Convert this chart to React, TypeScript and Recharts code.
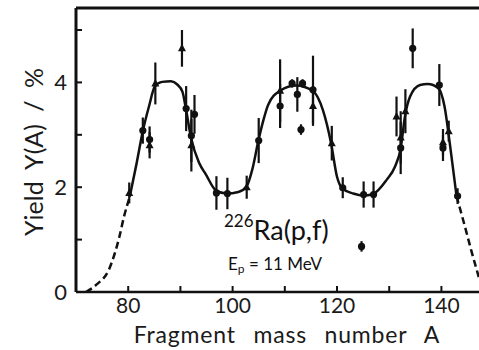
import { ComposedChart, Line, Scatter, XAxis, YAxis, ErrorBar, ReferenceLine } from 'recharts';

const FONT = 'Lato, "Open Sans", sans-serif';
const INK = '#111';

// fitted curve, solid part
const curveA = [80.3, 81.6, 82.8, 84.0, 85.1, 86.5, 88.2, 89.4, 90.4, 91.05, 92.0, 93.6, 94.9, 96.8, 98.8, 101.1, 102.7, 103.8, 104.9, 105.9, 106.8, 109.1, 112.2, 115.4, 117.3, 118.9, 120.0, 121.0, 123.1, 125.0, 126.9, 129.5, 131.1, 132.2, 133.0, 134.0, 135.9, 137.4, 139.4, 140.6, 141.6, 142.9];
const curveY = [1.82, 2.45, 3.07, 3.55, 3.92, 4.01, 4.02, 3.96, 3.82, 3.5, 2.96, 2.46, 2.24, 1.94, 1.88, 1.91, 2.02, 2.35, 2.87, 3.28, 3.57, 3.84, 3.94, 3.83, 3.47, 2.82, 2.2, 1.98, 1.88, 1.84, 1.87, 2.14, 2.39, 2.74, 3.34, 3.73, 3.95, 3.97, 3.89, 3.54, 2.84, 1.83];

// dashed wings
const leftWingA = [71.9, 73.8, 76.4, 78.3, 79.2, 80.3];
const leftWingY = [0, 0.13, 0.45, 1.05, 1.44, 1.82];
const rightWingA = [142.9, 144.5, 145.7, 147.2];
const rightWingY = [1.83, 1.25, 0.8, 0.27];

// measured yields, dots
const dotA = [82.8, 84.1, 91.1, 92.7, 92.1, 96.9, 99.0, 105.0, 109.1, 111.4, 112.4, 113.4, 113.1, 115.4, 121.1, 125.1, 127.0, 124.7, 132.2, 134.5, 139.6, 140.3, 143.1];
const dotY = [3.08, 2.91, 3.5, 3.39, 2.98, 1.89, 1.88, 2.89, 3.55, 3.98, 3.77, 3.98, 3.1, 3.86, 1.99, 1.86, 1.86, 0.87, 2.75, 4.65, 3.95, 2.75, 1.83];
const dotErr = [0.25, 0.25, 0.43, 0.37, 0.5, 0.32, 0.3, 0.43, 0.42, 0.08, 0.33, 0.08, 0.1, 0.65, 0.2, 0.25, 0.25, 0.1, 0.5, 0.38, 0.4, 0.25, 0.15];

// measured yields, triangles
const triA = [80.2, 84.1, 85.2, 90.3, 92.1, 102.7, 109.1, 115.4, 119.0, 131.4, 132.2, 133.1, 140.3, 141.4];
const triY = [1.89, 2.8, 3.98, 4.65, 2.8, 2.0, 3.84, 3.55, 2.84, 3.35, 2.95, 3.45, 2.86, 3.07];
const triErr = [0.2, 0.25, 0.4, 0.35, 0.5, 0.22, 0.6, 0.38, 0.33, 0.38, 0.5, 0.42, 0.25, 0.2];

const xTicks = [80, 90, 100, 110, 120, 130, 140];
const yTicks = [0, 1, 2, 3, 4, 5];
const X_MIN = 70;
const X_MAX = 147.2;
const Y_MAX = 5.42;

const zip = (xs: number[], ys: number[], es?: number[]) =>
  xs.map((a, i) => ({ a, y: ys[i], err: es ? es[i] : 0 }));

const curve = zip(curveA, curveY);
const leftWing = zip(leftWingA, leftWingY);
const rightWing = zip(rightWingA, rightWingY);
const dots = zip(dotA, dotY, dotErr);
const tris = zip(triA, triY, triErr);

const XTick = ({ x, y, payload }: any) => {
  const v = payload.value;
  return (
    <g>
      <line x1={x} x2={x} y1={y} y2={y - 6} stroke={INK} strokeWidth={2} />
      {v % 20 === 0 ? (
        <text x={x} y={y + 21} textAnchor="middle" fontSize={21} fontFamily={FONT} fill="#1a1a1a">
          {v}
        </text>
      ) : null}
    </g>
  );
};

const YTick = ({ x, y, payload }: any) => {
  const v = payload.value;
  return (
    <g>
      <line x1={x} x2={x + 6} y1={y} y2={y} stroke={INK} strokeWidth={2} />
      {v % 2 === 0 ? (
        <text x={x - 9} y={y + 8} textAnchor="end" fontSize={22} fontFamily={FONT} fill="#1a1a1a">
          {v}
        </text>
      ) : null}
    </g>
  );
};

const Dot = ({ cx, cy }: any) => <circle cx={cx} cy={cy} r={3.6} fill={INK} />;
const Tri = ({ cx, cy }: any) => (
  <polygon points={`${cx},${cy - 4.5} ${cx - 4},${cy + 3} ${cx + 4},${cy + 3}`} fill={INK} />
);

export default function App() {
  return (
    <div style={{ position: 'absolute', left: 0, top: 0, width: 479, height: 350, background: '#fff' }}>
      <ComposedChart width={479} height={350} margin={{ top: 8, right: 0, bottom: 0, left: 0 }}>
        <XAxis
          dataKey="a"
          type="number"
          domain={[X_MIN, X_MAX]}
          ticks={xTicks}
          allowDataOverflow
          height={58}
          tickSize={0}
          tickMargin={0}
          tick={<XTick />}
          axisLine={{ stroke: INK, strokeWidth: 2.5 }}
        />
        <YAxis
          type="number"
          domain={[0, Y_MAX]}
          ticks={yTicks}
          allowDataOverflow
          width={76}
          tickSize={0}
          tickMargin={0}
          tick={<YTick />}
          axisLine={{ stroke: INK, strokeWidth: 3 }}
        />
        <ReferenceLine y={Y_MAX} stroke={INK} strokeWidth={3} />
        <Line data={leftWing} dataKey="y" type="monotone" stroke={INK} strokeWidth={2.5} strokeDasharray="7 4" dot={false} activeDot={false} isAnimationActive={false} />
        <Line data={curve} dataKey="y" type="monotone" stroke={INK} strokeWidth={2.5} dot={false} activeDot={false} isAnimationActive={false} />
        <Line data={rightWing} dataKey="y" type="monotone" stroke={INK} strokeWidth={2.5} strokeDasharray="7 4" dot={false} activeDot={false} isAnimationActive={false} />
        <Scatter data={dots} dataKey="y" shape={<Dot />} isAnimationActive={false}>
          <ErrorBar dataKey="err" direction="y" width={0} stroke={INK} strokeWidth={2.2} />
        </Scatter>
        <Scatter data={tris} dataKey="y" shape={<Tri />} isAnimationActive={false}>
          <ErrorBar dataKey="err" direction="y" width={0} stroke={INK} strokeWidth={2.2} />
        </Scatter>
      </ComposedChart>
      <svg width={479} height={350} style={{ position: 'absolute', left: 0, top: 0, pointerEvents: 'none' }}>
        <text x={43} y={152} transform="rotate(-90 43 152)" textAnchor="middle" fontSize={25} fontFamily={FONT} fill="#1a1a1a" style={{ wordSpacing: 6 }}>
          Yield Y(A) / %
        </text>
        <text x={287} y={343} textAnchor="middle" fontSize={23} fontFamily={FONT} fill="#1a1a1a" style={{ wordSpacing: 11, letterSpacing: 0.8 }}>
          Fragment mass number A
        </text>
        <text x={224} y={240} fontFamily={FONT} fill="#111">
          <tspan fontSize={17} dy={-13}>226</tspan>
          <tspan fontSize={27} dy={13}>Ra(p,f)</tspan>
        </text>
        <text x={228} y={270} fontFamily={FONT} fill="#111" fontSize={17}>
          E<tspan fontSize={12} dy={3}>p</tspan>
          <tspan dy={-3}> = 11 MeV</tspan>
        </text>
      </svg>
    </div>
  );
}
